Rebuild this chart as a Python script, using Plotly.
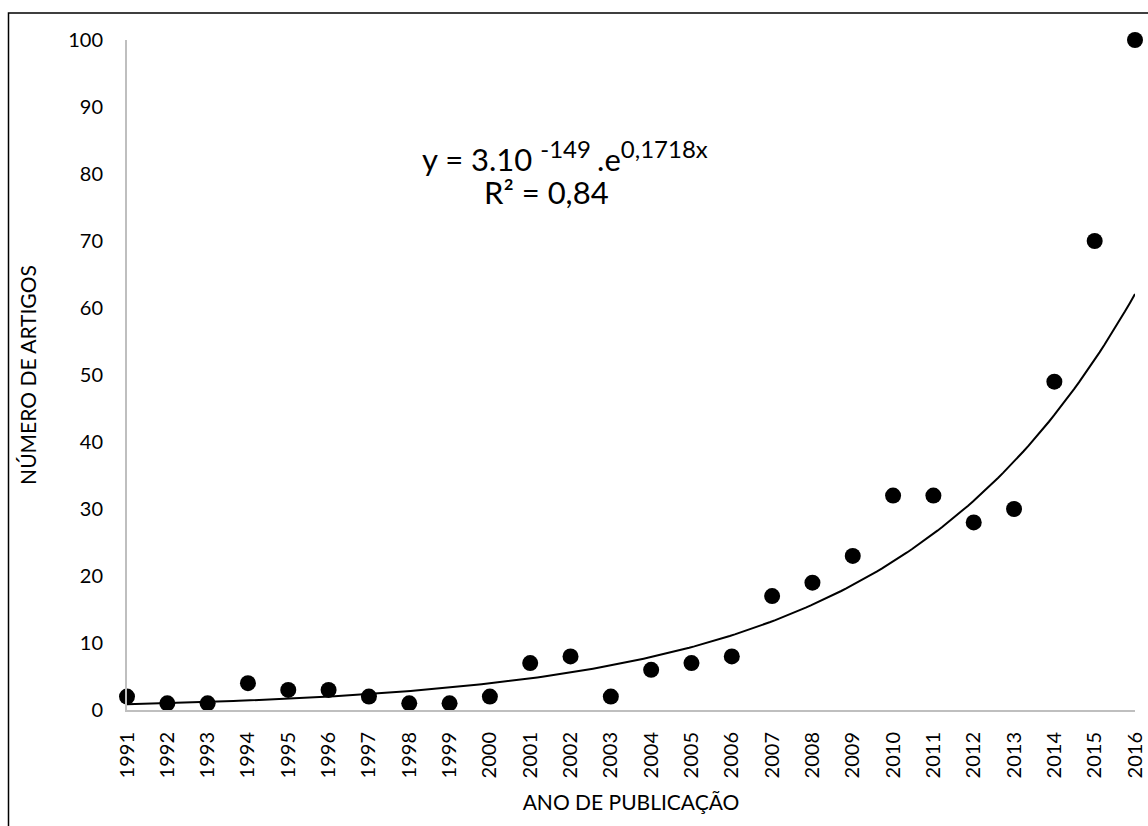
import numpy as np
import plotly.graph_objects as go

# Articles published per year
anos = list(range(1991, 2017))
artigos = [2, 1, 1, 4, 3, 3, 2, 1, 1, 2, 7, 8, 2, 6, 7, 8, 17, 19, 23, 32, 32, 28, 30, 49, 70, 100]
y_ticks = list(range(0, 101, 10))

# Exponential trendline: least squares on ln(y)
b, ln_a = np.polyfit(np.array(anos, dtype=float) - anos[0], np.log(artigos), 1)
xs = np.linspace(anos[0], anos[-1], 200)
ys = np.exp(ln_a) * np.exp(b * (xs - anos[0]))

FONT = "Lato"

fig = go.Figure()
fig.add_trace(go.Scatter(x=xs, y=ys, mode="lines",
                         line=dict(color="black", width=2), hoverinfo="skip",
                         cliponaxis=False))
fig.add_trace(go.Scatter(x=anos, y=artigos, mode="markers",
                         marker=dict(color="black", size=16), cliponaxis=False))

W, H = 1148, 826
L, R, T, B = 127, 13, 40, 116
pw, ph = W - L - R, H - T - B

def px_to_paper_x(px):
    return (px - L) / pw

def px_to_paper_y(py):
    return (H - B - py) / ph

SUP = "<sup><span style='font-size:24px'>{}</span></sup>"

fig.update_layout(
    width=W, height=H,
    margin=dict(l=L, r=R, t=T, b=B, pad=0, autoexpand=False),
    paper_bgcolor="white", plot_bgcolor="white",
    showlegend=False,
    font=dict(family=FONT, size=20, color="black"),
    xaxis=dict(
        range=[anos[0], anos[-1]], tickmode="array", tickvals=anos,
        ticktext=[str(a) for a in anos], tickangle=-90,
        showgrid=False, zeroline=False, showline=True, linecolor="#bfbfbf",
        linewidth=2, ticks="", ticklabelstandoff=12, tickfont=dict(size=20),
        automargin=False,
        title=dict(text="ANO DE PUBLICAÇÃO", font=dict(size=21), standoff=18),
    ),
    yaxis=dict(
        range=[0, 100], tickmode="array", tickvals=y_ticks,
        showgrid=False, zeroline=False, showline=True, linecolor="#bfbfbf",
        linewidth=2, ticks="", ticklabelstandoff=18,
        tickfont=dict(size=20), automargin=False,
        title=dict(text="NÚMERO DE ARTIGOS", font=dict(size=21), standoff=26),
    ),
    annotations=[
        dict(xref="paper", yref="paper", x=px_to_paper_x(565), y=px_to_paper_y(156),
             text="y = 3.10 " + SUP.format("-149 ") + ".e" + SUP.format("0,1718x"),
             showarrow=False,
             font=dict(size=31, family=FONT), xanchor="center", yanchor="middle"),
        dict(xref="paper", yref="paper", x=px_to_paper_x(546), y=px_to_paper_y(192),
             text="R² = 0,84", showarrow=False,
             font=dict(size=31, family=FONT), xanchor="center", yanchor="middle"),
    ],
    shapes=[
        dict(type="rect", xref="paper", yref="paper",
             x0=px_to_paper_x(8.5), x1=px_to_paper_x(1160),
             y0=px_to_paper_y(840), y1=px_to_paper_y(13),
             line=dict(color="black", width=1.5), layer="above"),
    ],
)

fig.write_html("out.html")
